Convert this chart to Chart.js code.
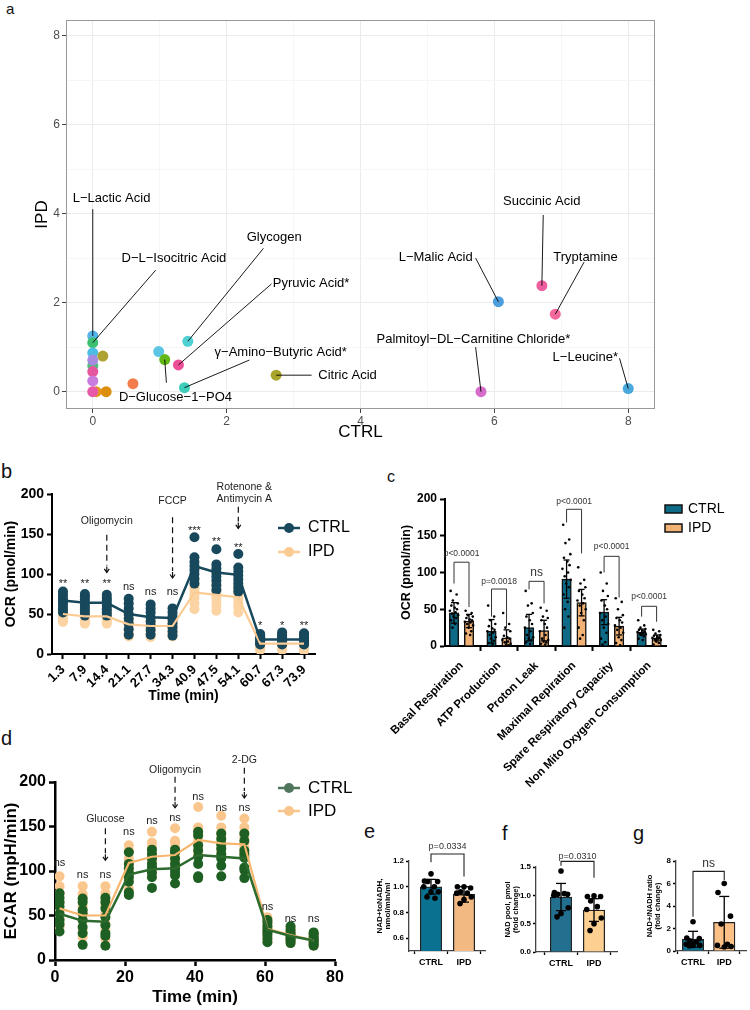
<!DOCTYPE html>
<html>
<head>
<meta charset="utf-8">
<script src="https://cdn.jsdelivr.net/npm/chart.js@4.4.1/dist/chart.umd.min.js"></script>
<style>
body { margin: 0; background: #fff; width: 750px; height: 1010px; position: relative; overflow: hidden; font-family: 'Liberation Sans', Arial, sans-serif; }
canvas { position: absolute; }
.tag { position: absolute; line-height: 1; color: #111; }
</style>
</head>
<body>
<div class="tag" style="left:6px;top:1px;font-size:15px">a</div>
<div class="tag" style="left:1px;top:461px;font-size:20px">b</div>
<div class="tag" style="left:387px;top:469px;font-size:16px">c</div>
<div class="tag" style="left:1px;top:728px;font-size:20px">d</div>
<div class="tag" style="left:364px;top:821px;font-size:20px">e</div>
<div class="tag" style="left:502px;top:823px;font-size:20px">f</div>
<div class="tag" style="left:633px;top:823px;font-size:20px">g</div>

<canvas id="chartA" width="750" height="446" style="left:0;top:0"></canvas>
<canvas id="chartB" width="370" height="228" style="left:0;top:480px"></canvas>
<canvas id="chartC" width="380" height="320" style="left:370px;top:470px"></canvas>
<canvas id="chartD" width="370" height="265" style="left:0;top:745px"></canvas>
<canvas id="chartE" width="125" height="140" style="left:370px;top:840px"></canvas>
<canvas id="chartF" width="130" height="140" style="left:495px;top:840px"></canvas>
<canvas id="chartG" width="125" height="140" style="left:625px;top:840px"></canvas>

<script>
// ---- a: metabolite use, CTRL vs IPD ----
const metabNames = ['L−Lactic Acid', 'D−L−Isocitric Acid', '', '', '', '', '', '', '', '', '', '', '',
  'D−Glucose−1−PO4', 'Glycogen', 'Pyruvic Acid*', 'γ−Amino−Butyric Acid*', 'Citric Acid',
  'Palmitoyl−DL−Carnitine Chloride*', 'L−Malic Acid', 'Succinic Acid', 'Tryptamine', 'L−Leucine*'];
const metabCtrl = [0, 0, 0, 0, 0, 0, 0, 0.05, 0, 0.2, 0.15, 0.6, 0.985, 1.075, 1.42, 1.28, 1.37, 2.74, 5.8, 6.06, 6.71, 6.91, 8.0];
const metabIpd = [1.25, 1.1, 0.87, 0.58, 0.71, 0.45, 0.24, 0, 0, 0, 0.8, 0.18, 0.9, 0.72, 1.13, 0.6, 0.09, 0.37, 0, 2.02, 2.38, 1.74, 0.07];

// ---- b: OCR time course ----
const ocrTimes = ['1.3', '7.9', '14.4', '21.1', '27.7', '34.3', '40.9', '47.5', '54.1', '60.7', '67.3', '73.9'];
const ocrCtrlMean = [67, 64, 64, 50, 46, 45, 110, 102, 99, 18, 18, 18];
const ocrIpdMean = [50, 47, 47, 37, 35, 35, 77, 74, 71, 13, 13, 13];
const ocrCtrlWells = [
  [78, 74, 70, 67, 64, 60, 56, 52], [75, 72, 68, 64, 60, 56, 52, 48], [74, 70, 67, 63, 60, 56, 52, 48],
  [69, 63, 57, 50, 44, 38, 31, 24], [62, 57, 52, 46, 41, 36, 30, 24], [57, 52, 47, 43, 38, 33, 28, 23],
  [146, 121, 115, 110, 105, 100, 94, 88], [131, 112, 107, 102, 97, 92, 86, 80], [125, 108, 103, 98, 93, 88, 83, 78],
  [25, 23, 21, 19, 17, 15, 13, 12], [27, 24, 22, 19, 17, 15, 13, 12], [26, 24, 21, 19, 17, 15, 13, 12]];
const ocrIpdWells = [
  [60, 56, 52, 49, 46, 44, 42, 40], [58, 54, 50, 47, 44, 42, 40, 38], [57, 53, 50, 47, 44, 42, 40, 38],
  [48, 44, 40, 37, 34, 30, 26, 22], [44, 41, 38, 35, 32, 28, 25, 21], [44, 41, 38, 35, 32, 28, 25, 22],
  [92, 86, 82, 78, 74, 70, 63, 56], [88, 82, 78, 74, 70, 66, 60, 54], [86, 80, 76, 72, 68, 63, 58, 52],
  [17, 15, 13, 12, 10, 8, 6, 5], [17, 15, 13, 12, 10, 8, 6, 5], [16, 14, 13, 11, 9, 7, 5, 4]];
const ocrSig = ['**', '**', '**', 'ns', 'ns', 'ns', '***', '**', '**', '*', '*', '**'];

// ---- c: mito stress parameters ----
const mitoParams = ['Basal Respiration', 'ATP Production', 'Proton Leak', 'Maximal Repiration', 'Spare Respiratory Capacity', 'Non Mito Oxygen Consumption'];
const mitoCtrlMean = [45, 20, 25, 91, 46, 19];
const mitoIpdMean = [34, 11, 21, 59, 27, 11];
const mitoCtrlSd = [14, 16, 18, 26, 17, 4];
const mitoIpdSd = [9, 11, 14, 18, 12, 4];
const mitoCtrlPts = [
  [75, 70, 62, 58, 55, 52, 50, 48, 46, 44, 42, 40, 38, 35, 30, 25],
  [55, 40, 35, 30, 27, 24, 22, 20, 18, 15, 12, 10, 7, 4, 2],
  [75, 58, 55, 45, 40, 35, 30, 25, 20, 15, 12, 10, 8, 5, 3],
  [165, 145, 140, 125, 120, 115, 110, 105, 100, 95, 90, 85, 80, 70, 60, 50, 40, 25],
  [100, 85, 75, 68, 62, 55, 50, 45, 40, 35, 30, 25, 18, 10, 5, 2],
  [35, 28, 25, 23, 22, 21, 20, 19, 18, 17, 16, 15, 13, 10, 8]];
const mitoIpdPts = [
  [48, 45, 42, 40, 38, 36, 35, 33, 32, 30, 28, 25, 20, 17, 15],
  [45, 30, 25, 20, 14, 12, 10, 8, 6, 5, 3, 2, 1],
  [52, 48, 40, 38, 35, 30, 25, 20, 15, 10, 8, 6, 5, 3, 2],
  [107, 90, 85, 80, 75, 70, 65, 62, 58, 55, 50, 45, 35, 25, 15, 10],
  [65, 60, 50, 42, 38, 35, 32, 28, 25, 22, 18, 12, 8, 4, 1],
  [22, 20, 17, 15, 14, 13, 12, 11, 10, 9, 8, 6, 4, 2]];
const mitoP = ['p<0.0001', 'p=0.0018', 'ns', 'p<0.0001', 'p<0.0001', 'p<0.0001'];

// ---- d: ECAR time course ----
const ecarTimes = [1.3, 7.9, 14.4, 21.1, 27.7, 34.3, 40.9, 47.5, 54.1, 60.7, 67.3, 73.9];
const ecarCtrlMean = [52, 44, 43, 96, 102, 103, 118, 116, 114, 34, 27, 22];
const ecarIpdMean = [58, 50, 50, 109, 116, 118, 135, 131, 130, 35, 28, 22];
const ecarCtrlWells = [
  [75, 70, 65, 60, 52, 45, 40, 32], [69, 65, 56, 52, 45, 37, 30, 17], [70, 65, 58, 48, 39, 30, 27, 16],
  [121, 108, 103, 98, 93, 88, 76, 73], [124, 119, 114, 108, 104, 98, 93, 81], [124, 121, 114, 108, 103, 99, 95, 86],
  [144, 140, 129, 123, 116, 108, 94, 92], [142, 136, 130, 125, 119, 114, 106, 94], [142, 134, 123, 119, 115, 104, 101, 92],
  [45, 42, 38, 34, 31, 28, 24, 20], [38, 34, 31, 28, 26, 24, 22, 19], [31, 29, 26, 24, 22, 20, 18, 16]];
const ecarIpdWells = [
  [94, 83, 75, 65, 56, 47, 41, 37], [83, 74, 69, 60, 52, 44, 34, 26], [83, 75, 69, 62, 52, 41, 34, 24],
  [129, 123, 114, 108, 101, 95, 90, 80], [144, 132, 127, 121, 115, 110, 104, 98], [148, 134, 131, 125, 119, 114, 110, 104],
  [172, 149, 145, 140, 134, 127, 121, 119], [162, 149, 143, 138, 131, 127, 123, 118], [159, 149, 142, 138, 131, 127, 123, 118],
  [48, 44, 40, 36, 33, 30, 26, 22], [36, 33, 30, 28, 25, 23, 21, 19], [30, 28, 25, 23, 21, 19, 17, 16]];
const ecarSig = ['ns', 'ns', 'ns', 'ns', 'ns', 'ns', 'ns', 'ns', 'ns', 'ns', 'ns', 'ns'];

// ---- e, f, g: NAD measurements ----
const nadGroups = ['CTRL', 'IPD'];
const nadRateMean = [1.0, 0.94];
const nadRateSd = [0.057, 0.06];
const nadRateCtrl = [1.1, 1.045, 1.04, 1.04, 1.0, 1.0, 0.96, 0.96, 0.92, 0.91];
const nadRateIpd = [1.0, 1.0, 0.99, 0.96, 0.95, 0.95, 0.92, 0.9, 0.87];
const nadPoolMean = [0.97, 0.74];
const nadPoolSd = [0.24, 0.2];
const nadPoolCtrl = [1.43, 1.05, 1.02, 1.02, 1.03, 1.0, 0.78, 0.68, 0.62];
const nadPoolIpd = [0.99, 0.98, 0.98, 0.9, 0.8, 0.75, 0.6, 0.5, 0.38];
const nadRatioMean = [1.05, 2.55];
const nadRatioSd = [0.7, 2.3];
const nadRatioCtrl = [2.6, 1.15, 1.1, 0.9, 0.8, 0.6, 0.5, 0.5, 0.45];
const nadRatioIpd = [6.0, 5.2, 3.1, 2.4, 0.6, 0.5, 0.4, 0.35];

// ---------- drawing styles and annotation placement ----------
const FONT = "'Liberation Sans', Arial, sans-serif";
Chart.defaults.font.family = FONT;
Chart.defaults.color = '#000';
Chart.defaults.animation = false;
Chart.defaults.responsive = false;
Chart.defaults.plugins.legend.display = false;
Chart.defaults.plugins.tooltip.enabled = false;

const metabColors = ['#56B4E9', '#3DBF72', '#4DBDE6', '#4CC07A', '#A68BE0', '#E6589E', '#C77CDE', '#E39B17', '#E858A8',
  '#DD8F0C', '#ADA22F', '#F47D4D', '#5CC6E2', '#64B816', '#4FD0D3', '#EC4F98', '#3DCDBA', '#A8A52A',
  '#D66CC9', '#4C9FDC', '#EE5F9E', '#F4689D', '#4AA8DD'];
// [text x, text y, leader x, leader y] in data units, text anchored at its left-middle
const metabLabelAt = [[-0.30, 4.35, 0, 4.10], [0.43, 3.0, 0.94, 2.73], null, null, null, null, null, null, null, null, null, null, null,
  [0.39, -0.12, 1.10, 0.20], [2.30, 3.47, 2.55, 3.22], [2.69, 2.44, 2.67, 2.42], [1.82, 0.87, 2.34, 0.71], [3.37, 0.37, 3.27, 0.37],
  [4.24, 1.18, 5.72, 1.0], [4.57, 3.02, 5.72, 3.0], [6.13, 4.28, 6.73, 3.97], [6.88, 3.02, 7.34, 2.91], [6.87, 0.78, 7.87, 0.75]];

// sig label heights (data units) and treatment arrows [position, text lines, text y, arrow top, arrow bottom]
const ocrSigAt = [92, 92, 92, 84, 78, 78, 159, 145, 138, 40, 40, 40];
const ocrArrows = [[2, ['Oligomycin'], [166], 149, 102], [5, ['FCCP'], [191], 171, 95], [8, ['Rotenone &', 'Antimycin A'], [208, 193], 184, 157]];
const ecarSigAt = [109, 96, 96, 144, 156, 160, 183, 171, 171, 60, 46, 46];
const ecarArrows = [[14.4, ['Glucose'], [158], 148, 112], [34.3, ['Oligomycin'], [213], 206, 171], [54.1, ['2-DG'], [225], 216, 182]];
// brackets: [top, left leg end, right leg end, text y]
const mitoBrackets = [[114, 85, 53, 125], [77.5, 40, 25, 87], [88, 77, 58, 100], [186, 168, 126, 197], [122, 100, 66, 135], [54, 40, 33, 67]];
const spreadC = [-0.09, 0.07, -0.03, 0.1, -0.07, 0.02, 0.08, -0.11, 0.04, -0.05, 0.11, -0.01, 0.06, -0.08, 0.03, -0.04, 0.05, -0.06];
const spreadN = [0, -0.2, 0.2, -0.1, 0.1, -0.22, 0.22, 0.0, -0.12, 0.12];

function fitY(w) { return s => { s.width = w; s.paddingTop = 0; s.paddingBottom = 0; s.paddingLeft = 0; s.paddingRight = 0; }; }
function fitX(h) { return s => { s.height = h; s.paddingTop = 0; s.paddingBottom = 0; s.paddingLeft = 0; s.paddingRight = 0; }; }

function text(ctx, str, x, y, size, opts = {}) {
  ctx.save();
  ctx.font = (opts.bold ? 'bold ' : '') + size + 'px ' + FONT;
  ctx.fillStyle = opts.color || '#000';
  ctx.textAlign = opts.align || 'center';
  ctx.textBaseline = 'middle';
  ctx.fillText(str, x, y);
  ctx.restore();
}
function line(ctx, pts, color, width) {
  ctx.save();
  ctx.strokeStyle = color; ctx.lineWidth = width;
  ctx.beginPath();
  pts.forEach((p, i) => i ? ctx.lineTo(p[0], p[1]) : ctx.moveTo(p[0], p[1]));
  ctx.stroke();
  ctx.restore();
}
function dashedArrow(ctx, x, y1, y2) {
  ctx.save();
  ctx.strokeStyle = '#111'; ctx.lineWidth = 1.2;
  ctx.setLineDash([6, 4]);
  ctx.beginPath(); ctx.moveTo(x, y1); ctx.lineTo(x, y2 - 7); ctx.stroke();
  ctx.setLineDash([]);
  ctx.beginPath(); ctx.moveTo(x, y2 - 6); ctx.lineTo(x, y2); ctx.stroke();
  ctx.beginPath(); ctx.moveTo(x - 2.5, y2 - 3.5); ctx.lineTo(x, y2); ctx.lineTo(x + 2.5, y2 - 3.5); ctx.stroke();
  ctx.restore();
}
function legendLine(ctx, x, y, color, label, size) {
  line(ctx, [[x, y], [x + 22, y]], color, 2.5);
  ctx.save(); ctx.fillStyle = color; ctx.beginPath(); ctx.arc(x + 11, y, 5, 0, Math.PI * 2); ctx.fill(); ctx.restore();
  text(ctx, label, x + 30, y, size, { align: 'left' });
}
function sigLabel(ctx, str, x, y) {
  // asterisks sit high in the line box, so push them down
  text(ctx, str, x, str.indexOf('*') >= 0 ? y + 4 : y, 11, { color: '#222' });
}
function errorBars(chart, sds, capW) {
  const ctx = chart.ctx, ys = chart.scales.y;
  chart.data.datasets.forEach((ds, di) => {
    if (ds.type !== 'bar') return;
    chart.getDatasetMeta(di).data.forEach((bar, i) => {
      const v = ds.data[i].y, sd = sds[ds.group][i];
      const top = ys.getPixelForValue(v + sd), bot = ys.getPixelForValue(v - sd);
      line(ctx, [[bar.x, top], [bar.x, bot]], '#000', 1.3);
      line(ctx, [[bar.x - capW, top], [bar.x + capW, top]], '#000', 1.3);
      line(ctx, [[bar.x - capW, bot], [bar.x + capW, bot]], '#000', 1.3);
    });
  });
}

// ---------- a ----------
new Chart(document.getElementById('chartA'), {
  type: 'scatter',
  data: { datasets: [{ data: metabCtrl.map((x, i) => ({ x, y: metabIpd[i] })), backgroundColor: metabColors, pointRadius: 5.5, borderWidth: 0 }] },
  options: {
    layout: { padding: { left: 0, top: 20, right: 750 - 655, bottom: 0 } },
    scales: {
      x: {
        type: 'linear', min: -0.4, max: 8.4, afterFit: fitX(446 - 409),
        ticks: { stepSize: 1, includeBounds: false, autoSkip: false, maxRotation: 0, padding: 1, color: '#4D4D4D', font: { size: 12 }, callback: v => (v % 2 === 0 ? v : '') },
        grid: { color: c => (c.tick && c.tick.value % 2 === 0 ? '#EBEBEB' : '#F6F6F6'), tickColor: c => (c.tick && c.tick.value % 2 === 0 ? '#444' : 'rgba(0,0,0,0)'), tickLength: 4, lineWidth: 1 },
        border: { display: false },
        title: { display: true, text: 'CTRL', font: { size: 17 }, padding: { top: 0, bottom: 3 } }
      },
      y: {
        type: 'linear', min: -0.39, max: 8.35, afterFit: fitY(66),
        ticks: { stepSize: 1, includeBounds: false, autoSkip: false, padding: 2, color: '#4D4D4D', font: { size: 12 }, callback: v => (v % 2 === 0 ? v : '') },
        grid: { color: c => (c.tick && c.tick.value % 2 === 0 ? '#EBEBEB' : '#F6F6F6'), tickColor: c => (c.tick && c.tick.value % 2 === 0 ? '#444' : 'rgba(0,0,0,0)'), tickLength: 4, lineWidth: 1 },
        border: { display: false },
        title: { display: true, text: 'IPD', font: { size: 17 }, padding: { top: 32, bottom: 0 } }
      }
    }
  },
  plugins: [{
    id: 'metabLabels',
    beforeDatasetsDraw(chart) {
      const { ctx, chartArea: a } = chart;
      ctx.save(); ctx.strokeStyle = '#999'; ctx.lineWidth = 1; ctx.strokeRect(a.left + 0.5, a.top + 0.5, a.width - 1, a.height - 1); ctx.restore();
    },
    afterDraw(chart) {
      const { ctx, scales: { x, y } } = chart;
      metabLabelAt.forEach((p, i) => {
        if (!p) return;
        line(ctx, [[x.getPixelForValue(p[2]), y.getPixelForValue(p[3])], [x.getPixelForValue(metabCtrl[i]), y.getPixelForValue(metabIpd[i])]], '#000', 0.9);
        text(ctx, metabNames[i], x.getPixelForValue(p[0]), y.getPixelForValue(p[1]), 13, { align: 'left' });
      });
    }
  }]
});

// ---------- b and d: time courses ----------
function wellSets(wells, color, order) {
  const n = wells[0].length, sets = [];
  for (let k = 0; k < n; k++) {
    sets.push({ type: 'line', data: wells.map(col => col[k]), showLine: false, pointRadius: 5, pointBackgroundColor: color, pointBorderWidth: 0, order });
  }
  return sets;
}
function prismAxis(o) {
  return Object.assign({
    grid: { display: true, drawOnChartArea: false, drawTicks: true, tickLength: o.tickLen || 5, tickWidth: o.lw || 2, color: '#000' },
    border: { display: true, color: '#000', width: o.lw || 2 }
  }, o.cfg);
}

new Chart(document.getElementById('chartB'), {
  type: 'line',
  data: {
    labels: ocrTimes,
    datasets: [
      { data: ocrCtrlMean, borderColor: '#17485C', borderWidth: 2.5, pointRadius: 0, order: 0 },
      { data: ocrIpdMean, borderColor: '#FBCB94', borderWidth: 2.2, pointRadius: 0, order: 1 },
      ...wellSets(ocrCtrlWells, '#17485C', 2),
      ...wellSets(ocrIpdWells, '#FCD4A4', 3)
    ]
  },
  options: {
    layout: { padding: { left: 0, top: 14, right: 370 - 315, bottom: 0 } },
    scales: {
      x: prismAxis({ cfg: {
        type: 'category', offset: true, afterFit: fitX(228 - 174),
        ticks: { autoSkip: false, minRotation: 45, maxRotation: 45, padding: 3, font: { size: 13, weight: 'bold' } }
      } }),
      y: prismAxis({ cfg: {
        min: 0, max: 200, afterFit: fitY(52),
        ticks: { stepSize: 50, padding: 3, font: { size: 14, weight: 'bold' } },
        title: { display: true, text: 'OCR (pmol/min)', font: { size: 14, weight: 'bold' }, padding: { top: 3, bottom: 0 } }
      } })
    }
  },
  plugins: [{
    id: 'ocrNotes',
    afterDraw(chart) {
      const { ctx, chartArea: a, scales: { x, y } } = chart;
      text(ctx, 'Time (min)', (a.left + a.right) / 2, 216, 14, { bold: true });
      ocrSig.forEach((s, i) => sigLabel(ctx, s, x.getPixelForValue(i), y.getPixelForValue(ocrSigAt[i])));
      ocrArrows.forEach(([i, labels, ty, a1, a2]) => {
        const px = x.getPixelForValue(i);
        labels.forEach((l, k) => text(ctx, l, px + (labels.length > 1 ? 6 : 0), y.getPixelForValue(ty[k]), 10.5, { color: '#222' }));
        dashedArrow(ctx, px, y.getPixelForValue(a1), y.getPixelForValue(a2));
      });
      legendLine(ctx, 278, 48, '#17485C', 'CTRL', 16);
      legendLine(ctx, 278, 72, '#FBCB94', 'IPD', 16);
    }
  }]
});

function ecarSets(wells, color, order) {
  const n = wells[0].length, sets = [];
  for (let k = 0; k < n; k++) {
    sets.push({ data: wells.map((col, t) => ({ x: ecarTimes[t], y: col[k] })), showLine: false, pointRadius: 5, pointBackgroundColor: color, pointBorderWidth: 0, order });
  }
  return sets;
}
new Chart(document.getElementById('chartD'), {
  type: 'scatter',
  data: {
    datasets: [
      { data: ecarCtrlMean.map((v, t) => ({ x: ecarTimes[t], y: v })), showLine: true, borderColor: '#2C6B2D', borderWidth: 2.5, pointRadius: 0, order: 0 },
      { data: ecarIpdMean.map((v, t) => ({ x: ecarTimes[t], y: v })), showLine: true, borderColor: '#F6B66E', borderWidth: 2.2, pointRadius: 0, order: 1 },
      ...ecarSets(ecarCtrlWells, '#1E5F23', 2),
      ...ecarSets(ecarIpdWells, '#F9C78E', 3)
    ]
  },
  options: {
    layout: { padding: { left: 0, top: 37, right: 370 - 335, bottom: 0 } },
    scales: {
      x: prismAxis({ lw: 2.5, tickLen: 6, cfg: {
        type: 'linear', min: 0, max: 80, afterFit: fitX(265 - 215),
        ticks: { stepSize: 20, padding: 2, maxRotation: 0, font: { size: 16, weight: 'bold' } },
        title: { display: true, text: 'Time (min)', font: { size: 17, weight: 'bold' }, padding: { top: 0, bottom: 2 } }
      } }),
      y: prismAxis({ lw: 2.5, tickLen: 6, cfg: {
        min: 0, max: 200, afterFit: fitY(55),
        ticks: { stepSize: 50, padding: 3, font: { size: 16, weight: 'bold' } },
        title: { display: true, text: 'ECAR (mpH/min)', font: { size: 17, weight: 'bold' }, padding: { top: 1, bottom: 0 } }
      } })
    }
  },
  plugins: [{
    id: 'ecarNotes',
    afterDraw(chart) {
      const { ctx, scales: { x, y } } = chart;
      ecarSig.forEach((s, i) => sigLabel(ctx, s, x.getPixelForValue(ecarTimes[i]), y.getPixelForValue(ecarSigAt[i])));
      ecarArrows.forEach(([t, labels, ty, a1, a2]) => {
        const px = x.getPixelForValue(t);
        labels.forEach((l, k) => text(ctx, l, px, y.getPixelForValue(ty[k]), 10.5, { color: '#222' }));
        dashedArrow(ctx, px, y.getPixelForValue(a1), y.getPixelForValue(a2));
      });
      legendLine(ctx, 278, 43, '#4F765C', 'CTRL', 17);
      legendLine(ctx, 278, 66, '#F8C68C', 'IPD', 17);
    }
  }]
});

// ---------- c: grouped bars with points ----------
function barSet(means, group, shift, color, width) {
  return { type: 'bar', group, data: means.map((v, i) => ({ x: i + shift, y: v })), backgroundColor: color, borderColor: '#111', borderWidth: 1.5, borderSkipped: 'bottom', grouped: false, barThickness: width, order: 5 };
}
function dotSet(pts, shift, spread, r) {
  const data = [];
  pts.forEach((col, i) => col.forEach((v, k) => data.push({ x: i + shift + spread[k % spread.length], y: v })));
  return { type: 'scatter', data, pointRadius: r, pointBackgroundColor: '#000', pointBorderWidth: 0, order: 1 };
}
new Chart(document.getElementById('chartC'), {
  type: 'scatter',
  data: {
    datasets: [
      barSet(mitoCtrlMean, 0, -0.2, '#0E6B87', 9.5),
      barSet(mitoIpdMean, 1, 0.2, '#F2B275', 9.5),
      dotSet(mitoCtrlPts, -0.2, spreadC, 1.3),
      dotSet(mitoIpdPts, 0.2, spreadC, 1.3)
    ]
  },
  options: {
    layout: { padding: { left: 0, top: 29, right: 380 - 296, bottom: 0 } },
    scales: {
      x: prismAxis({ cfg: {
        type: 'linear', min: -0.44, max: 5.45, offset: false, afterFit: fitX(320 - 176),
        ticks: { stepSize: 1, includeBounds: false, autoSkip: false, minRotation: 45, maxRotation: 45, padding: 8, font: { size: 11.5, weight: 'bold' }, callback: v => mitoParams[v] || '' }
      } }),
      y: prismAxis({ cfg: {
        min: 0, max: 200, afterFit: fitY(75),
        ticks: { stepSize: 50, padding: 3, font: { size: 12, weight: 'bold' } },
        title: { display: true, text: 'OCR (pmol/min)', font: { size: 12.5, weight: 'bold' }, padding: { top: 29, bottom: 0 } }
      } })
    }
  },
  plugins: [{
    id: 'mitoNotes',
    afterDatasetsDraw(chart) { errorBars(chart, [mitoCtrlSd, mitoIpdSd], 3); },
    afterDraw(chart) {
      const { ctx, scales: { x, y } } = chart;
      mitoBrackets.forEach(([top, l, r, ty], i) => {
        const x1 = x.getPixelForValue(i - 0.2), x2 = x.getPixelForValue(i + 0.2);
        line(ctx, [[x1, y.getPixelForValue(l)], [x1, y.getPixelForValue(top)], [x2, y.getPixelForValue(top)], [x2, y.getPixelForValue(r)]], '#333', 1);
        const ns = mitoP[i] === 'ns';
        text(ctx, mitoP[i], (x1 + x2) / 2, y.getPixelForValue(ty), ns ? 12 : 8.5, { color: '#333' });
      });
      [['CTRL', '#0E6B87', 39], ['IPD', '#F2B275', 58]].forEach(([lab, col, yy]) => {
        ctx.save(); ctx.fillStyle = col; ctx.strokeStyle = '#111'; ctx.lineWidth = 1.5;
        ctx.fillRect(295, yy - 4, 17, 8); ctx.strokeRect(295, yy - 4, 17, 8); ctx.restore();
        text(ctx, lab, 318, yy, 14, { align: 'left' });
      });
    }
  }]
});

// ---------- e, f, g: two-bar panels ----------
function nadChart(id, area, yCfg, xRange, means, sds, ctrlPts, ipdPts, colors, title, titleSize, titlePad, bracket, pLabel) {
  const W = area.W;
  new Chart(document.getElementById(id), {
    type: 'scatter',
    data: {
      datasets: [
        { type: 'bar', group: 0, data: [{ x: 0, y: means[0] }], backgroundColor: colors[0], borderColor: '#222', borderWidth: 1.3, grouped: false, barThickness: 21.5, order: 5 },
        { type: 'bar', group: 1, data: [{ x: 1, y: means[1] }], backgroundColor: colors[1], borderColor: '#222', borderWidth: 1.3, grouped: false, barThickness: 21.5, order: 5 },
        dotSet([ctrlPts], 0, spreadN, 2.8),
        dotSet([ipdPts], 1, spreadN, 2.8)
      ]
    },
    options: {
      layout: { padding: { left: 0, top: area.T, right: W - area.R, bottom: 0 } },
      scales: {
        x: prismAxis({ lw: 1.3, tickLen: 3, cfg: {
          type: 'linear', min: xRange[0], max: xRange[1], offset: false, afterFit: fitX(140 - area.B),
          border: { display: true, color: '#444', width: 1.3 },
          ticks: { stepSize: 1, includeBounds: false, autoSkip: false, maxRotation: 0, padding: 3, font: { size: 9, weight: 'bold' }, callback: v => nadGroups[v] || '' }
        } }),
        y: prismAxis({ lw: 1.3, tickLen: 3, cfg: Object.assign({
          afterFit: fitY(area.L),
          border: { display: true, color: '#444', width: 1.3 },
          title: { display: true, text: title, font: { size: titleSize, weight: 'bold', lineHeight: 1.1 }, padding: { top: titlePad, bottom: 0 } }
        }, yCfg) })
      }
    },
    plugins: [{
      id: id + 'Notes',
      afterDatasetsDraw(chart) { errorBars(chart, [[sds[0]], [sds[1]]], 5); },
      afterDraw(chart) {
        const { ctx, scales: { x, y } } = chart;
        const x1 = x.getPixelForValue(0), x2 = x.getPixelForValue(1);
        line(ctx, [[x1, y.getPixelForValue(bracket[1])], [x1, y.getPixelForValue(bracket[0])], [x2, y.getPixelForValue(bracket[0])], [x2, y.getPixelForValue(bracket[2])]], '#222', 1.1);
        text(ctx, pLabel, (x1 + x2) / 2, y.getPixelForValue(bracket[3]), pLabel === 'ns' ? 12 : 9, { color: '#333' });
      }
    }]
  });
}
nadChart('chartE', { W: 125, L: 39, T: 21, R: 115, B: 111 },
  { min: 0.5, max: 1.2, ticks: { stepSize: 0.2, includeBounds: false, padding: 2, font: { size: 8, weight: 'bold' }, callback: v => v.toFixed(1) } },
  [-0.667, 1.636], nadRateMean, nadRateSd, nadRateCtrl, nadRateIpd, ['#0B7191', '#F3B982'],
  ['NAD+toNADH,', 'nmol/min/ml'], 8, 5, [1.255, 1.19, 1.08, 1.31], 'p=0.0334');
nadChart('chartF', { W: 130, L: 41, T: 27, R: 122, B: 112 },
  { min: 0, max: 1.5, ticks: { stepSize: 0.5, padding: 2, font: { size: 8, weight: 'bold' }, callback: v => v.toFixed(1) } },
  [-0.758, 1.697], nadPoolMean, nadPoolSd, nadPoolCtrl, nadPoolIpd, ['#226F8F', '#FDCF90'],
  ['NAD pool, pmol', '(fold change)'], 7.5, 9, [1.6, 1.52, 1.31, 1.69], 'p=0.0310');
nadChart('chartG', { W: 125, L: 51, T: 21, R: 125, B: 111 },
  { min: 0, max: 8, ticks: { stepSize: 2, padding: 2, font: { size: 8, weight: 'bold' } } },
  [-0.545, 1.697], nadRatioMean, nadRatioSd, nadRatioCtrl, nadRatioIpd, ['#0E7090', '#FBC086'],
  ['NAD+/NADH ratio', '(fold change)'], 7.5, 21, [7.08, 3.05, 6.3, 7.8], 'ns');
</script>
</body>
</html>
